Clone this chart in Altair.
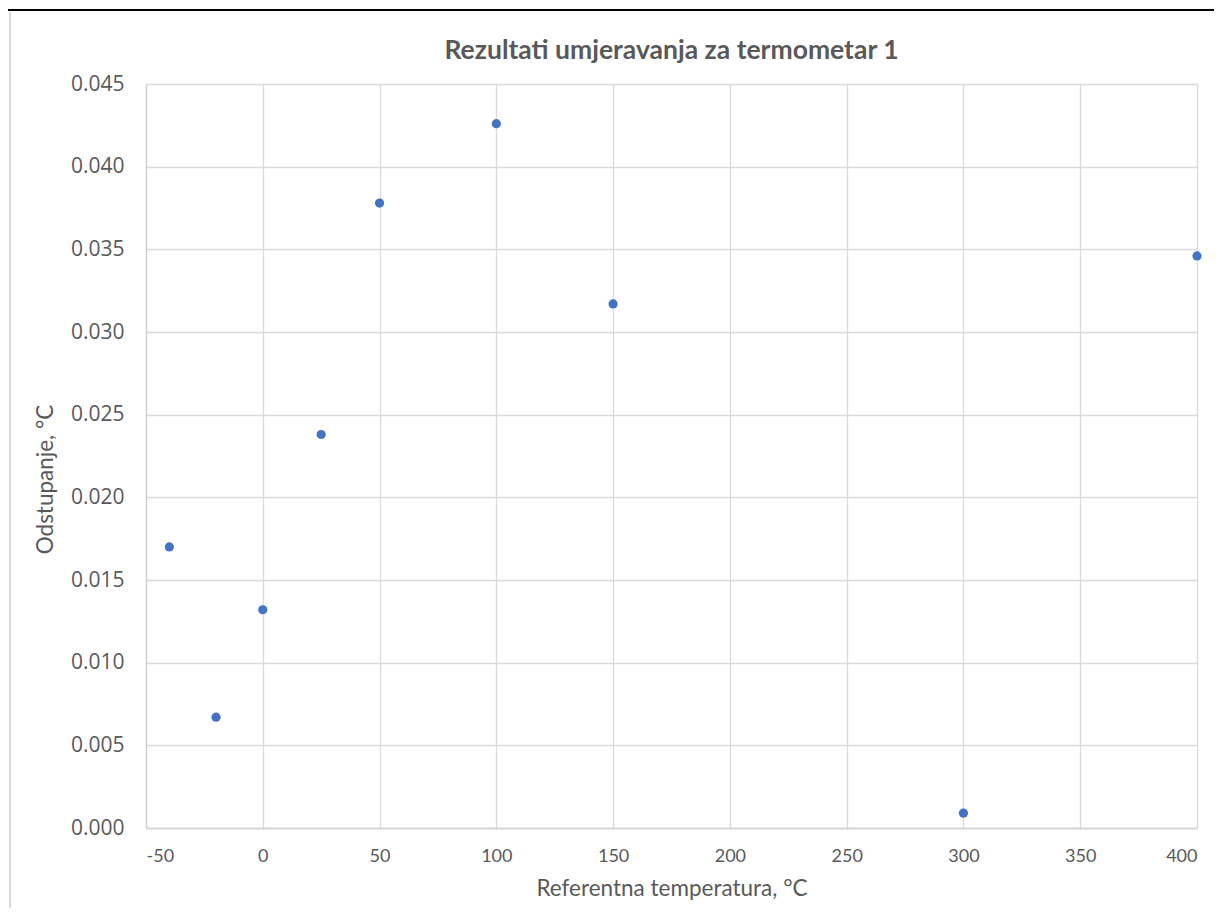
import altair as alt
import pandas as pd

temps = [-40, -20, 0, 25, 50, 100, 150, 300, 400]
devs = [0.0170, 0.0067, 0.0132, 0.0238, 0.0378, 0.0426, 0.0317, 0.0009, 0.0346]
TITLE = "Rezultati umjeravanja za termometar 1"

df = pd.DataFrame({"T": temps, "D": devs})
tdf = pd.DataFrame({"t": [TITLE]})

TXT = "#595959"
GRID = "#d9d9d9"

points = alt.Chart(df).mark_circle(size=85, color="#4472c4", opacity=1).encode(
    x=alt.X("T:Q", scale=alt.Scale(domain=[-50, 400], nice=False),
            axis=alt.Axis(title="Referentna temperatura, °C", values=list(range(-50, 401, 50)),
                          format="d",
                          labelExpr="datum.value < 0 ? '-' + abs(datum.value) : datum.label",
                          labelFont="Lato", labelFontSize=18, labelColor=TXT,
                          titleFont="Lato", titleFontSize=22.5, titleFontWeight="normal", titleColor=TXT,
                          ticks=False, labelPadding=19, titlePadding=12,
                          grid=True, gridColor=GRID, gridWidth=1.3,
                          domainColor="#d0d0d0", domainWidth=1.3)),
    y=alt.Y("D:Q", scale=alt.Scale(domain=[0, 0.045], nice=False),
            axis=alt.Axis(title="Odstupanje, °C", values=[i * 0.005 for i in range(10)],
                          format=".3f", labelFont="Open Sans", labelFontSize=21, labelColor=TXT,
                          titleFont="Lato", titleFontSize=22.5, titleFontWeight="normal", titleColor=TXT,
                          ticks=False, labelPadding=22,
                          titleX=-101, titleY=395, titleBaseline="middle", titleAngle=270,
                          grid=True, gridColor=GRID, gridWidth=1.3,
                          domainColor="#d0d0d0", domainWidth=1.3)),
)

title = alt.Chart(tdf).mark_text(font="Lato", fontSize=26.5, fontWeight="bold", color=TXT,
                                 align="center", baseline="alphabetic").encode(
    text="t:N", x=alt.value(525.5), y=alt.value(-25))

top_line = alt.Chart(df).mark_rule(color="black", strokeWidth=2, clip=False).encode(
    x=alt.value(-141), x2=alt.value(1076), y=alt.value(-74))
left_line = alt.Chart(df).mark_rule(color="#d9d9d9", strokeWidth=2, clip=False).encode(
    x=alt.value(-136), y=alt.value(-72), y2=alt.value(835))

chart = alt.layer(top_line, left_line, points, title).properties(
    width=1051, height=744,
    padding={"left": 138, "top": 76, "right": 17, "bottom": 80},
    autosize="none",
).configure_view(stroke=None)

chart.save("out.html", embed_options={"renderer": "svg", "actions": False})
